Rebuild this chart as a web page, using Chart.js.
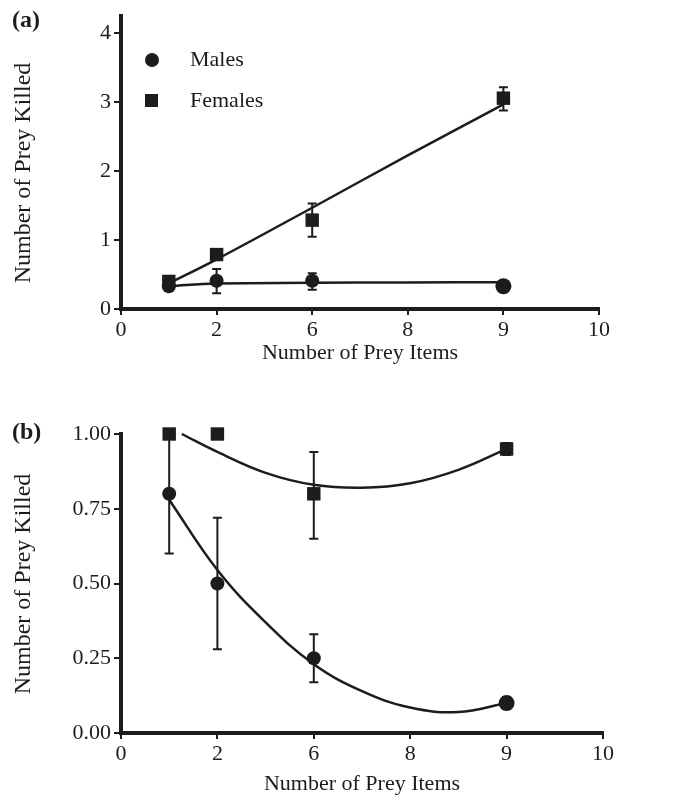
<!DOCTYPE html>
<html>
<head>
<meta charset="utf-8">
<script src="https://cdn.jsdelivr.net/npm/chart.js@4.4.1/dist/chart.umd.min.js"></script>
<style>
  html, body { margin: 0; padding: 0; background: #fff; }
  #wrapA { position: absolute; left: 0; top: 0; width: 675px; height: 370px; }
  #wrapB { position: absolute; left: 0; top: 370px; width: 675px; height: 427px; }
</style>
</head>
<body>
<div id="wrapA"><canvas id="chartA"></canvas></div>
<div id="wrapB"><canvas id="chartB"></canvas></div>
<script>
// x axis is evenly spaced, slot index -> printed label
const xTickLabels = ['0', '2', '6', '8', '9', '10'];
// prey items 1, 2, 6, 9 sit at these slots
const preyPos = [0.5, 1, 2, 4];

// panel (a)
const malesA = [0.33, 0.41, 0.41, 0.33];
const malesALo = [null, 0.23, 0.28, null];
const malesAHi = [null, 0.58, 0.52, null];
const femalesA = [0.40, 0.79, 1.29, 3.06];
const femalesALo = [null, null, 1.05, 2.88];
const femalesAHi = [null, null, 1.53, 3.22];
const fitPosA = [0.5, 1, 2, 3, 4];
const malesFitA = [0.33, 0.37, 0.38, 0.385, 0.39];
const femalesFitA = [0.37, 0.72, 1.47, 2.23, 2.97];
const yTicksA = [0, 1, 2, 3, 4];

// panel (b)
const malesB = [0.80, 0.50, 0.25, 0.10];
const malesBLo = [0.60, 0.28, 0.17, 0.08];
const malesBHi = [1.00, 0.72, 0.33, 0.12];
const femalesB = [1.00, 1.00, 0.80, 0.95];
const femalesBLo = [null, null, 0.65, 0.93];
const femalesBHi = [null, null, 0.94, 0.97];
const malesFitPosB = [0.5, 1, 1.5, 2, 2.5, 3, 3.5, 4];
const malesFitB = [0.78, 0.545, 0.37, 0.23, 0.14, 0.085, 0.07, 0.10];
const femalesFitPosB = [0.63, 1, 1.5, 2, 2.5, 3, 3.5, 4];
const femalesFitB = [1.00, 0.94, 0.87, 0.83, 0.82, 0.835, 0.88, 0.95];
const yTicksB = [0, 0.25, 0.5, 0.75, 1];

const ink = '#1e1b1c';
const serif = "'Liberation Serif', 'Times New Roman', serif";

function pts(xs, ys) {
  return xs.map((x, i) => ({ x: x, y: ys[i] }));
}

function makeErrorBars(sets) {
  return {
    id: 'errorBars',
    beforeDatasetsDraw(chart) {
      const { ctx, scales: { x, y } } = chart;
      ctx.save();
      ctx.strokeStyle = ink;
      ctx.lineWidth = 2;
      sets.forEach(set => {
        preyPos.forEach((p, i) => {
          if (set.lo[i] == null) return;
          const px = x.getPixelForValue(p);
          const y1 = y.getPixelForValue(set.lo[i]);
          const y2 = y.getPixelForValue(set.hi[i]);
          ctx.beginPath();
          ctx.moveTo(px, y1); ctx.lineTo(px, y2);
          ctx.moveTo(px - 4.5, y1); ctx.lineTo(px + 4.5, y1);
          ctx.moveTo(px - 4.5, y2); ctx.lineTo(px + 4.5, y2);
          ctx.stroke();
        });
      });
      ctx.restore();
    }
  };
}

// panel letter plus the rotated y title (placed by hand, like the original)
function makeTag(text, x, y, titleY) {
  return {
    id: 'panelTag',
    afterDraw(chart) {
      const ctx = chart.ctx;
      ctx.save();
      ctx.fillStyle = ink;
      ctx.font = 'bold 24px ' + serif;
      ctx.textBaseline = 'middle';
      ctx.fillText(text, x, y);
      ctx.translate(24, titleY);
      ctx.rotate(-Math.PI / 2);
      ctx.font = '24px ' + serif;
      ctx.textAlign = 'center';
      ctx.fillText('Number of Prey Killed', 0, 0);
      ctx.restore();
    }
  };
}

// small legend inside panel (a)
const legendA = {
  id: 'legendA',
  afterDraw(chart) {
    const ctx = chart.ctx;
    const ds = chart.data.datasets;
    ctx.save();
    ctx.fillStyle = ink;
    ctx.beginPath();
    ctx.arc(152, 60, 7, 0, Math.PI * 2);
    ctx.fill();
    ctx.fillRect(145, 94, 13, 13);
    ctx.font = '22px ' + serif;
    ctx.textBaseline = 'middle';
    ctx.fillText(ds[0].label, 190, 60);
    ctx.fillText(ds[1].label, 190, 101);
    ctx.restore();
  }
};

function buildChart(canvasId, opt) {
  const ctx = document.getElementById(canvasId).getContext('2d');
  return new Chart(ctx, {
    type: 'scatter',
    data: {
      datasets: [
        {
          label: 'Males',
          data: pts(preyPos, opt.males),
          pointStyle: 'circle',
          pointRadius: opt.males.map((v, i) => i === 3 ? 8 : 7),
          backgroundColor: ink,
          borderColor: ink,
          borderWidth: 0,
          showLine: false,
          clip: false
        },
        {
          label: 'Females',
          data: pts(preyPos, opt.females),
          pointStyle: 'rect',
          pointRadius: 9.5,
          backgroundColor: ink,
          borderColor: ink,
          borderWidth: 0,
          showLine: false,
          clip: false
        },
        {
          label: 'Males fit',
          data: pts(opt.mFitPos, opt.mFit),
          showLine: true,
          pointRadius: 0,
          borderColor: ink,
          borderWidth: 2.5,
          tension: 0.4,
          clip: false
        },
        {
          label: 'Females fit',
          data: pts(opt.fFitPos, opt.fFit),
          showLine: true,
          pointRadius: 0,
          borderColor: ink,
          borderWidth: 2.5,
          tension: 0.4,
          clip: false
        }
      ]
    },
    options: {
      responsive: true,
      maintainAspectRatio: false,
      animation: false,
      events: [],
      layout: {
        padding: { top: opt.padTop, right: opt.padRight, left: 0, bottom: 0 }
      },
      plugins: {
        legend: { display: false },
        tooltip: { enabled: false }
      },
      scales: {
        x: {
          type: 'linear',
          min: 0,
          max: 5,
          afterBuildTicks: axis => {
            axis.ticks = xTickLabels.map((l, i) => ({ value: i }));
          },
          afterFit: axis => { axis.height = opt.xHeight; },
          ticks: {
            color: ink,
            font: { family: serif, size: 22 },
            padding: 2,
            maxRotation: 0,
            callback: (v) => xTickLabels[v]
          },
          grid: {
            drawOnChartArea: false,
            drawTicks: true,
            tickLength: 6,
            color: ink,
            lineWidth: 2
          },
          border: { display: true, color: ink, width: 4 },
          title: {
            display: true,
            text: 'Number of Prey Items',
            color: ink,
            font: { family: serif, size: 22 },
            padding: { top: 0, bottom: opt.titlePadBottom }
          }
        },
        y: {
          type: 'linear',
          min: 0,
          max: opt.yMax,
          afterBuildTicks: axis => {
            axis.ticks = opt.yTicks.map(v => ({ value: v }));
          },
          afterFit: axis => { axis.width = 121; },
          ticks: {
            color: ink,
            font: { family: serif, size: 22 },
            padding: 3,
            callback: opt.yFormat
          },
          grid: {
            drawOnChartArea: false,
            drawTicks: true,
            tickLength: 7,
            color: ink,
            lineWidth: 2
          },
          border: { display: true, color: ink, width: 4 },
          title: { display: false }
        }
      }
    },
    plugins: opt.plugins
  });
}

buildChart('chartA', {
  males: malesA,
  females: femalesA,
  mFitPos: fitPosA,
  mFit: malesFitA,
  fFitPos: fitPosA,
  fFit: femalesFitA,
  yMax: 4.25,
  yTicks: yTicksA,
  yFormat: v => String(v),
  padTop: 9,
  padRight: 76,
  xHeight: 61,
  titlePadBottom: 4,
  plugins: [
    makeErrorBars([
      { lo: malesALo, hi: malesAHi },
      { lo: femalesALo, hi: femalesAHi }
    ]),
    makeTag('(a)', 12, 21, 173),
    legendA
  ]
});

buildChart('chartB', {
  males: malesB,
  females: femalesB,
  mFitPos: malesFitPosB,
  mFit: malesFitB,
  fFitPos: femalesFitPosB,
  fFit: femalesFitB,
  yMax: 1,
  yTicks: yTicksB,
  yFormat: v => Number(v).toFixed(2),
  padTop: 64,
  padRight: 72,
  xHeight: 64,
  titlePadBottom: 0,
  plugins: [
    makeErrorBars([
      { lo: malesBLo, hi: malesBHi },
      { lo: femalesBLo, hi: femalesBHi }
    ]),
    makeTag('(b)', 12, 63, 214)
  ]
});
</script>
</body>
</html>
